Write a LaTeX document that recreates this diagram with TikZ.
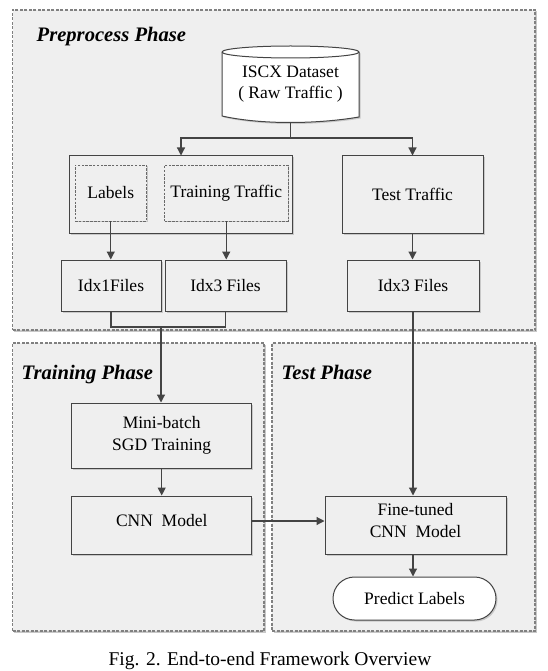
\documentclass[tikz,border=0pt]{standalone}
\usepackage{fontspec}
\setmainfont{Liberation Serif}
\usetikzlibrary{shadows,arrows.meta,calc}
\definecolor{bg}{HTML}{EFEFEF}
\definecolor{ln}{HTML}{444444}
\definecolor{dl}{HTML}{808080}
\definecolor{shd}{HTML}{C8C8C8}
\begin{document}
\begin{tikzpicture}[x=1pt,y=-1pt,
  phase/.style={draw=dl, line width=1.1pt, dash pattern=on 3pt off 1.5pt, fill=bg, inner sep=0pt,
    drop shadow={shadow xshift=1.5pt, shadow yshift=-1.5pt, fill=shd, opacity=1}},
  box/.style={draw=ln, line width=1pt, fill=bg, inner sep=0pt, align=center,
    font=\fontsize{17.5}{21.5}\selectfont,
    drop shadow={shadow xshift=1.5pt, shadow yshift=-1.5pt, fill=shd, opacity=1}},
  dbox/.style={draw=ln!80, line width=0.9pt, dash pattern=on 2.5pt off 1.3pt, fill=bg, inner sep=0pt, align=center,
    font=\fontsize{17.5}{21.5}\selectfont,
    drop shadow={shadow xshift=1.2pt, shadow yshift=-1.2pt, fill=shd, opacity=1}},
  txt/.style={inner sep=0pt, align=center, font=\fontsize{17.5}{21.5}\selectfont},
  ttl/.style={inner sep=0pt, anchor=base west, font=\fontsize{20.6}{24}\selectfont\bfseries\itshape},
  arr/.style={draw=ln, line width=1.2pt, -{Triangle[length=8pt,width=8pt]}},
  ln/.style={draw=ln, line width=1.2pt}
]
\useasboundingbox (0,0) rectangle (547,671);
\fill[white] (0,0) rectangle (547,671);

% phases
\node[phase, minimum width=522.5pt, minimum height=320pt] (pre) at (273.75,170) {};
\node[phase, minimum width=251.5pt, minimum height=288pt] (trn) at (138.25,487) {};
\node[phase, minimum width=263pt, minimum height=288pt] (tst) at (403.5,487) {};

\node[ttl] (tpre) at (36.5,42) {Preprocess Phase};
\node[ttl] (ttrn) at (21.5,379.5) {Training Phase};
\node[ttl] (ttst) at (281.5,379.5) {Test Phase};

% cylinder
\path[draw=ln, line width=1pt, fill=white,
  drop shadow={shadow xshift=1.5pt, shadow yshift=-1.5pt, fill=shd, opacity=1}]
  (222,52) -- (222,116) .. controls (262,125) and (318,124) .. (359,117) -- (359,52)
  arc[start angle=0, end angle=180, x radius=68.5pt, y radius=6pt] -- cycle;
\draw[ln-color/.style={}, draw=ln, line width=1pt] (222,52) arc[start angle=180, end angle=360, x radius=68.5pt, y radius=6pt];
\node[txt] (iscx) at (290.5,84) {ISCX Dataset\\( Raw Traffic )};
\coordinate (cylb) at (290.5,122.5);
\coordinate (split) at (290.5,138);

% preprocess nodes
\node[box, minimum width=223pt, minimum height=77pt] (grp) at (181,194.5) {};
\node[dbox, minimum width=71.5pt, minimum height=56pt] (lab) at (110.75,193) {Labels};
\node[dbox, minimum width=123.5pt, minimum height=56pt] (trt) at (226.25,193) {Training Traffic};
\node[box, minimum width=141pt, minimum height=77pt] (tet) at (412.5,194.5) {Test Traffic};

\node[box, minimum width=100pt, minimum height=51.5pt] (idx1) at (111,285.75) {Idx1Files};
\node[box, minimum width=121pt, minimum height=51.5pt] (idx3a) at (225.5,285.75) {Idx3 Files};
\node[box, minimum width=132pt, minimum height=51.5pt] (idx3b) at (413,285.75) {Idx3 Files};

% training / test nodes
\node[box, minimum width=180pt, minimum height=65pt] (mini) at (161.7,435.5) {Mini-batch\\SGD Training};
\node[box, minimum width=180pt, minimum height=58pt] (cnn) at (161.7,525) {};
\node[txt] (cnnt) at (161.7,521) {CNN~~Model};
\node[box, minimum width=181pt, minimum height=58pt] (fine) at (415.5,525) {};
\node[txt] (finet) at (415.5,520.5) {Fine-tuned\\CNN~~Model};
\node[box, fill=white!97!bg, rounded corners=21.5pt, minimum width=163pt, minimum height=43pt] (pred) at (414.5,598.5) {Predict Labels};

% connectors
\draw[ln] (cylb) -- (split);
\draw[arr] (split) -| (grp.north);
\draw[arr] (split) -| (tet.north);
\draw[arr] (lab.south) -- (lab.south |- idx1.north);
\draw[arr] (trt.south) -- (trt.south |- idx3a.north);
\draw[arr] (tet.south) -- (tet.south |- idx3b.north);
\coordinate (mrg) at (161,327);
\draw[ln] (idx1.south) |- (mrg) -| (idx3a.south);
\draw[arr] (mrg) -- (mrg |- mini.north);
\draw[arr] (mini.south) -- (cnn.north);
\draw[arr] (idx3b.south) -- (idx3b.south |- fine.north);
\draw[arr] (cnn.east |- 0,521) -- (fine.west |- 0,521);
\draw[arr] (fine.south -| idx3b.south) -- (idx3b.south |- pred.north);

\node[inner sep=0pt, anchor=base, font=\fontsize{19.5}{23}\selectfont] (cap) at (270,665.5) {Fig. 2. End-to-end Framework Overview};
\end{tikzpicture}
\end{document}
